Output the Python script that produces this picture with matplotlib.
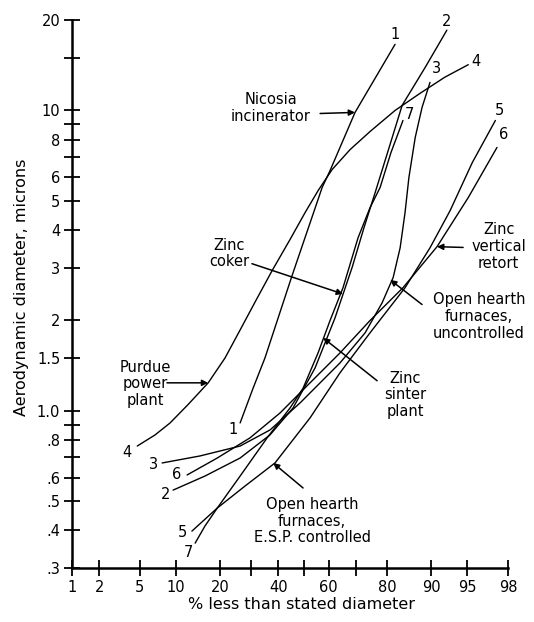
import math
import numpy as np
import matplotlib
matplotlib.use("Agg")
import matplotlib.pyplot as plt
from matplotlib.ticker import FixedLocator, FixedFormatter, NullFormatter

# ---------------- data (percent less than stated diameter, diameter in microns) -------------
c1_pct = [26.2, 30.6, 34.9, 45.4, 57.4, 60.5, 69.75, 82.1]
c1_dia = [0.912, 1.19, 1.50, 2.82, 5.54, 6.31, 9.85, 16.6]

c2_pct = [9.5, 16.1, 26.2, 36.8, 45.8, 54.6, 62.4, 68.7, 72.8, 76.4, 80.5, 83.9, 88.9, 92.5]
c2_dia = [0.545, 0.607, 0.697, 0.832, 1.023, 1.39, 2.04, 3.0, 4.07, 5.33, 7.53, 10.4, 13.9, 18.5]

c3_pct = [7.77, 14.9, 26.2, 36.8, 48.6, 64.3, 73.2, 78.5, 81.6, 83.4, 84.6, 85.5, 86.9, 88.3, 89.8]
c3_dia = [0.671, 0.708, 0.764, 0.864, 1.063, 1.445, 1.82, 2.29, 2.78, 3.49, 4.57, 5.98, 8.13, 10.23, 12.4]

c4_pct = [4.74, 6.79, 9.0, 12.3, 16.9, 21.5, 26.2, 31.7, 37.6, 44.6, 50.6, 55.8, 61.3, 68.0,
          74.8, 82.1, 87.9, 92.2, 95.1]
c4_dia = [0.764, 0.832, 0.912, 1.05, 1.24, 1.50, 1.86, 2.34, 2.93, 3.72, 4.57, 5.41, 6.36, 7.41,
          8.51, 10.0, 11.4, 12.9, 14.2]

c5_pct = [13.1, 19.3, 27.8, 38.7, 52.6, 64.3, 74.8, 84.6, 89.8, 92.95, 95.5, 97.3]
c5_dia = [0.398, 0.475, 0.562, 0.671, 0.948, 1.34, 1.82, 2.57, 3.49, 4.64, 6.71, 9.26]

c6_pct = [12.1, 19.3, 29.5, 40.7, 52.6, 64.3, 74.8, 84.1, 91.0, 95.1, 97.4]
c6_dia = [0.612, 0.697, 0.813, 0.985, 1.24, 1.56, 2.0, 2.57, 3.52, 5.13, 7.53]

c7_pct = [13.8, 16.1, 19.3, 26.2, 35.7, 44.6, 49.8, 55.8, 60.5, 65.4, 70.8, 74.8, 77.9, 81.0, 84.1]
c7_dia = [0.363, 0.414, 0.475, 0.607, 0.813, 1.023, 1.19, 1.56, 2.0, 2.57, 3.77, 4.75, 5.54, 7.24, 9.26]

curve_ids = ["1", "2", "3", "4", "5", "6", "7"]

x_ticks = [1, 2, 5, 10, 20, 30, 40, 50, 60, 70, 80, 90, 95, 98]
x_ticklabels = ["1", "2", "5", "10", "20", "", "40", "", "60", "", "80", "90", "95", "98"]
y_major = [0.3, 0.4, 0.5, 0.6, 0.8, 1.0, 1.5, 2, 3, 4, 5, 6, 8, 10, 20]
y_major_labels = [".3", ".4", ".5", ".6", ".8", "1.0", "1.5", "2", "3", "4", "5", "6", "8", "10", "20"]
y_minor = [0.7, 0.9, 7, 9, 15]

# ---------------- probability scale -------------
_zg = np.linspace(-5.5, 5.5, 22001)
_pg = 50.0 * (1.0 + np.vectorize(math.erf)(_zg / math.sqrt(2.0)))

def _fwd(p):
    return np.interp(np.asarray(p, dtype=float), _pg, _zg)

def _inv(z):
    return np.interp(np.asarray(z, dtype=float), _zg, _pg)

plt.rcParams['font.family'] = ['DejaVu Sans']

fig = plt.figure(figsize=(5.34, 6.22), dpi=100)
ax = fig.add_axes([72 / 534, 54 / 622, 436 / 534, 548 / 622])
ax.set_xscale('function', functions=(_fwd, _inv))
ax.set_yscale('log')
ax.set_xlim(1, 98)
ax.set_ylim(0.3, 20)

series = [(c1_pct, c1_dia), (c2_pct, c2_dia), (c3_pct, c3_dia), (c4_pct, c4_dia),
          (c5_pct, c5_dia), (c6_pct, c6_dia), (c7_pct, c7_dia)]
for (px, py) in series:
    ax.plot(px, py, color='black', lw=1.0, solid_capstyle='round', solid_joinstyle='round')

# curve number labels at both ends (offsets in pixels)
start_off = [(-7, -7), (-8, -4), (-9, -2), (-10, -6), (-9, -1), (-10, 0), (-7, -9)]
end_off = [(0, 10), (0, 9), (6, 14), (8, 3), (4, 10), (7, 13), (6, 6)]
for cid, (px, py), so, eo in zip(curve_ids, series, start_off, end_off):
    ax.annotate(cid, (px[0], py[0]), xytext=so, textcoords='offset pixels',
                ha='center', va='center', fontsize=10.5)
    ax.annotate(cid, (px[-1], py[-1]), xytext=eo, textcoords='offset pixels',
                ha='center', va='center', fontsize=10.5)

# source annotations: (text, text position, arrow tail, arrow tip) in data units
notes = [
    ("Nicosia\nincinerator", (37.2, 10.2), (56.6, 9.77), (69.75, 9.85)),
    ("Purdue\npower\nplant", (5.56, 1.23), (8.5, 1.24), (16.9, 1.24)),
    ("Zinc\ncoker", (22.7, 3.34), (30.2, 3.09), (65.4, 2.45)),
    ("Zinc\nvertical\nretort", (97.5, 3.52), (94.55, 3.5), (91.0, 3.52)),
    ("Open hearth\nfurnaces,\nuncontrolled", (96.1, 2.06), (88.3, 2.26), (80.8, 2.73)),
    ("Zinc\nsinter\nplant", (84.6, 1.13), (77.0, 1.26), (57.8, 1.75)),
    ("Open hearth\nfurnaces,\nE.S.P. controlled", (53.4, 0.43), (49.8, 0.554), (38.0, 0.671)),
]
for txt, tpos, tail, tip in notes:
    ax.text(tpos[0], tpos[1], txt, ha='center', va='center', fontsize=10.5,
            linespacing=1.15, clip_on=False)
    ax.annotate('', xy=tip, xytext=tail,
                arrowprops=dict(arrowstyle='-|>', lw=1.1, color='black',
                                mutation_scale=9, shrinkA=0, shrinkB=0))

# axes styling
for s in ['top', 'right']:
    ax.spines[s].set_visible(False)
for s in ['left', 'bottom']:
    ax.spines[s].set_linewidth(1.8)

ax.xaxis.set_major_locator(FixedLocator(x_ticks))
ax.xaxis.set_major_formatter(FixedFormatter(x_ticklabels))
ax.xaxis.set_minor_locator(FixedLocator([]))
ax.yaxis.set_major_locator(FixedLocator(y_major))
ax.yaxis.set_major_formatter(FixedFormatter(y_major_labels))
ax.yaxis.set_minor_locator(FixedLocator(y_minor))
ax.yaxis.set_minor_formatter(NullFormatter())
ax.tick_params(which='both', direction='inout', length=11, width=1.3,
               labelsize=10.5, pad=3)

ax.set_xlabel("% less than stated diameter", fontsize=11.5)
ax.set_ylabel("Aerodynamic diameter, microns", fontsize=11.5)
ax.xaxis.set_label_coords((301 - 72) / 436, (568 - 597) / 548)
ax.yaxis.set_label_coords((29 - 72) / 436, (568 - 287) / 548)

fig.savefig("out.png", dpi=100)
